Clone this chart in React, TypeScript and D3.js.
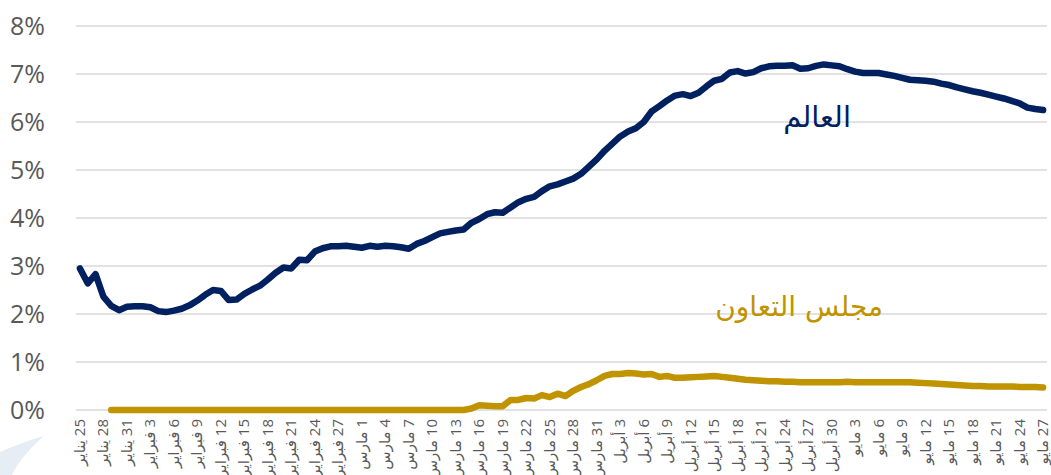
import React from 'react';
import * as d3 from 'd3';

// daily share (%) of ... world vs GCC, 25 Jan -> 27 May 2020
const startDay = new Date(2020, 0, 25);
const endDay = new Date(2020, 4, 28);

const worldValues = [
    2.95, 2.64, 2.83, 2.36, 2.17, 2.08, 2.15, 2.16, 2.16, 2.14,
    2.06, 2.04, 2.07, 2.11, 2.18, 2.28, 2.40, 2.50, 2.48, 2.29,
    2.30, 2.42, 2.51, 2.59, 2.72, 2.86, 2.97, 2.95, 3.13, 3.12,
    3.30, 3.37, 3.41, 3.41, 3.42, 3.40, 3.38, 3.42, 3.40, 3.42,
    3.41, 3.39, 3.36, 3.46, 3.52, 3.60, 3.68, 3.71, 3.74, 3.76,
    3.90, 3.98, 4.08, 4.12, 4.11, 4.22, 4.33, 4.40, 4.44, 4.56,
    4.66, 4.70, 4.76, 4.82, 4.92, 5.07, 5.22, 5.40, 5.55, 5.70,
    5.80, 5.87, 6.00, 6.22, 6.33, 6.45, 6.55, 6.58, 6.54, 6.61,
    6.74, 6.86, 6.90, 7.03, 7.06, 7.01, 7.04, 7.12, 7.16, 7.17,
    7.17, 7.18, 7.11, 7.12, 7.17, 7.20, 7.18, 7.16, 7.10, 7.05,
    7.02, 7.02, 7.02, 6.99, 6.96, 6.92, 6.88, 6.87, 6.86, 6.84,
    6.80, 6.77, 6.72, 6.68, 6.64, 6.61, 6.57, 6.53, 6.49, 6.44,
    6.39, 6.30, 6.27, 6.25,
];

const gccValues = [
    null, null, null, null, 0, 0, 0, 0, 0, 0,
    0, 0, 0, 0, 0, 0, 0, 0, 0, 0,
    0, 0, 0, 0, 0, 0, 0, 0, 0, 0,
    0, 0, 0, 0, 0, 0, 0, 0, 0, 0,
    0, 0, 0, 0, 0, 0, 0, 0, 0, 0,
    0.03, 0.10, 0.09, 0.08, 0.08, 0.21, 0.21, 0.25, 0.24, 0.31,
    0.27, 0.34, 0.29, 0.40, 0.48, 0.54, 0.62, 0.71, 0.75, 0.75,
    0.77, 0.76, 0.74, 0.75, 0.69, 0.71, 0.67, 0.67, 0.68, 0.69,
    0.70, 0.71, 0.69, 0.67, 0.65, 0.63, 0.62, 0.61, 0.60, 0.60,
    0.59, 0.59, 0.58, 0.58, 0.58, 0.58, 0.58, 0.58, 0.59, 0.58,
    0.58, 0.58, 0.58, 0.58, 0.58, 0.58, 0.58, 0.57, 0.56, 0.55,
    0.54, 0.53, 0.52, 0.51, 0.50, 0.50, 0.49, 0.49, 0.49, 0.49,
    0.48, 0.48, 0.48, 0.47,
];

const tickLabels = [
    '25 يناير', '28 يناير', '31 يناير',
    '3 فبراير', '6 فبراير', '9 فبراير', '12 فبراير', '15 فبراير', '18 فبراير', '21 فبراير', '24 فبراير', '27 فبراير',
    '1 مارس', '4 مارس', '7 مارس', '10 مارس', '13 مارس', '16 مارس', '19 مارس', '22 مارس', '25 مارس', '28 مارس', '31 مارس',
    '3 أبريل', '6 أبريل', '9 أبريل', '12 أبريل', '15 أبريل', '18 أبريل', '21 أبريل', '24 أبريل', '27 أبريل', '30 أبريل',
    '3 مايو', '6 مايو', '9 مايو', '12 مايو', '15 مايو', '18 مايو', '21 مايو', '24 مايو', '27 مايو',
];

const yTicks = [0, 1, 2, 3, 4, 5, 6, 7, 8];

const seriesNames = {world: 'العالم', gcc: 'مجلس التعاون'};

const width = 1051;
const height = 475;
const margin = {top: 26, right: 4, bottom: 65, left: 76};

const navy = '#002060';
const gold = '#C09300';

const App = () => {
    const days = d3.timeDay.range(startDay, endDay);
    const idx = days.map((d, i) => i);

    const x = d3.scaleBand().domain(idx).range([margin.left, width - margin.right]);
    const y = d3.scaleLinear().domain([0, 8]).range([height - margin.bottom, margin.top]);
    const cx = i => x(i) + x.bandwidth() / 2;

    const line = d3.line()
        .defined(d => d.v != null)
        .x(d => cx(d.i))
        .y(d => y(d.v));

    const worldPath = line(worldValues.map((v, i) => ({i, v})));
    const gccPath = line(gccValues.map((v, i) => ({i, v})));

    return (
        <svg width={width} height={height}
             style={{position: 'fixed', left: 0, top: 0, background: '#fff'}}>
            <path d="M0,475 L0,452 C12,447 28,440 44,436 C30,448 18,462 12,475 Z" fill="#e6edf5"/>
            {yTicks.map(t => (
                <g key={t}>
                    <line x1={margin.left} x2={width - margin.right} y1={y(t)} y2={y(t)}
                          stroke="#d9d9d9" strokeWidth={1.5}/>
                    <text x={45} y={y(t)} dy="0.35em" textAnchor="end"
                          fontFamily="'Open Sans', sans-serif" fontSize={25} fill="#595959">
                        {t + '%'}
                    </text>
                </g>
            ))}
            {tickLabels.map((lab, k) => (
                <text key={k} transform={`translate(${cx(k * 3) + 5},419) rotate(-90)`}
                      direction="rtl" textAnchor="start"
                      fontFamily="'Open Sans', 'DejaVu Sans', sans-serif" fontSize={15} fill="#595959">
                    {lab}
                </text>
            ))}
            <path d={gccPath} fill="none" stroke={gold} strokeWidth={6.5}
                  strokeLinecap="round" strokeLinejoin="round"/>
            <path d={worldPath} fill="none" stroke={navy} strokeWidth={6.5}
                  strokeLinecap="round" strokeLinejoin="round"/>
            <text x={851} y={127} textAnchor="end" fontFamily="'DejaVu Sans', sans-serif"
                  fontSize={29} fill={navy}>{seriesNames.world}</text>
            <text x={883} y={316} textAnchor="end" fontFamily="'DejaVu Sans', sans-serif"
                  fontSize={28} fill={gold}>{seriesNames.gcc}</text>
        </svg>
    );
};

export default App;
